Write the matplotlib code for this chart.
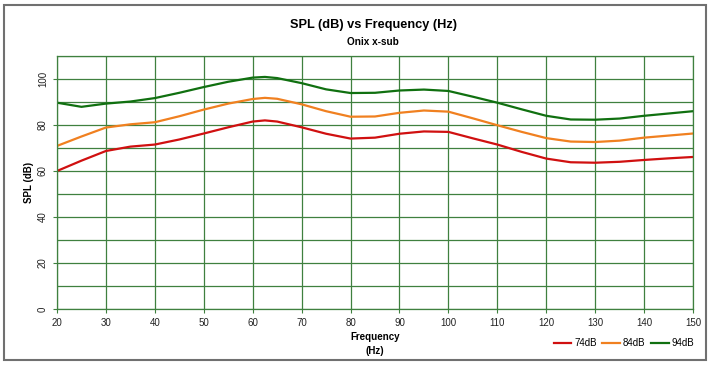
import matplotlib
matplotlib.use("Agg")
import matplotlib.pyplot as plt
from matplotlib.patches import Rectangle

freq = [20, 25, 30, 35, 40, 45, 50, 55, 60, 62.5, 65, 70, 75, 80, 85, 90, 95, 100,
        105, 110, 115, 120, 125, 130, 135, 140, 145, 150]
spl_74 = [60, 64.5, 68.7, 70.6, 71.5, 73.7, 76.3, 79, 81.5, 82.0, 81.5, 79, 76.2, 74.1,
          74.5, 76.2, 77.2, 77, 74.2, 71.5, 68.3, 65.4, 63.8, 63.6, 64, 64.8, 65.5, 66.1]
spl_84 = [70.9, 75, 78.9, 80.3, 81.2, 83.8, 86.7, 89.3, 91.3, 91.8, 91.4, 89, 86, 83.6,
          83.7, 85.3, 86.3, 85.8, 82.9, 79.9, 77, 74.3, 72.8, 72.6, 73.2, 74.5, 75.4, 76.3]
spl_94 = [89.7, 87.9, 89.3, 90.2, 91.7, 94, 96.5, 98.8, 100.6, 100.9, 100.4, 98.2, 95.5, 93.9,
          94, 95, 95.4, 94.8, 92.3, 89.7, 86.8, 84, 82.4, 82.3, 82.8, 84, 85, 86]
series_labels = ["74dB", "84dB", "94dB"]
series_colors = ["#D01010", "#F08020", "#107010"]
x_ticks = list(range(20, 151, 10))
y_ticks = list(range(0, 101, 20))

plt.rcParams['font.family'] = ['Liberation Sans', 'DejaVu Sans']
grid_col = "#3F803F"

fig = plt.figure(figsize=(7.10, 3.65), dpi=100)
fig.patches.append(Rectangle((4/710, 1 - 360/365), 702/710, 355/365, transform=fig.transFigure,
                             fill=False, edgecolor="#707070", linewidth=1.5))
ax = fig.add_axes([57/710, 1 - 309/365, (693 - 57)/710, (309 - 56)/365])

for ys, lab, col in zip([spl_74, spl_84, spl_94], series_labels, series_colors):
    ax.plot(freq, ys, color=col, linewidth=1.6, label=lab)

ax.set_xlim(20, 150)
ax.set_ylim(0, 110)
ax.set_xticks(x_ticks)
ax.set_yticks(y_ticks)
ax.set_yticks(range(0, 111, 10), minor=True)
ax.grid(True, which='both', axis='y', color=grid_col, linewidth=0.9)
ax.grid(True, which='major', axis='x', color=grid_col, linewidth=0.9)
ax.set_axisbelow(True)
for s in ax.spines.values():
    s.set_color(grid_col)
    s.set_linewidth(0.9)
ax.tick_params(axis='both', which='both', length=3, color=grid_col, labelsize=7, labelcolor="#222222")
ax.tick_params(axis='y', which='minor', length=0)
for lbl in ax.get_yticklabels():
    lbl.set_rotation(90)
    lbl.set_va('center')

ax.set_ylabel("SPL (dB)", fontsize=7, fontweight='bold', labelpad=3)
fig.text(375/710, 1 - 344/365, "Frequency\n(Hz)", ha='center', va='center', fontsize=7,
         fontweight='bold', linespacing=1.6)
fig.text(373/710, 1 - 25/365, "SPL (dB) vs Frequency (Hz)", ha='center', va='center',
         fontsize=9.2, fontweight='bold')
fig.text(373/710, 1 - 42/365, "Onix x-sub", ha='center', va='center', fontsize=7.2,
         fontweight='bold')

leg = fig.legend(loc='center right', bbox_to_anchor=(703/710, 1 - 343/365), ncol=3,
                 frameon=False, fontsize=7, handlelength=1.8, handletextpad=0.3,
                 columnspacing=0.6)

fig.savefig("out.png", dpi=100)
